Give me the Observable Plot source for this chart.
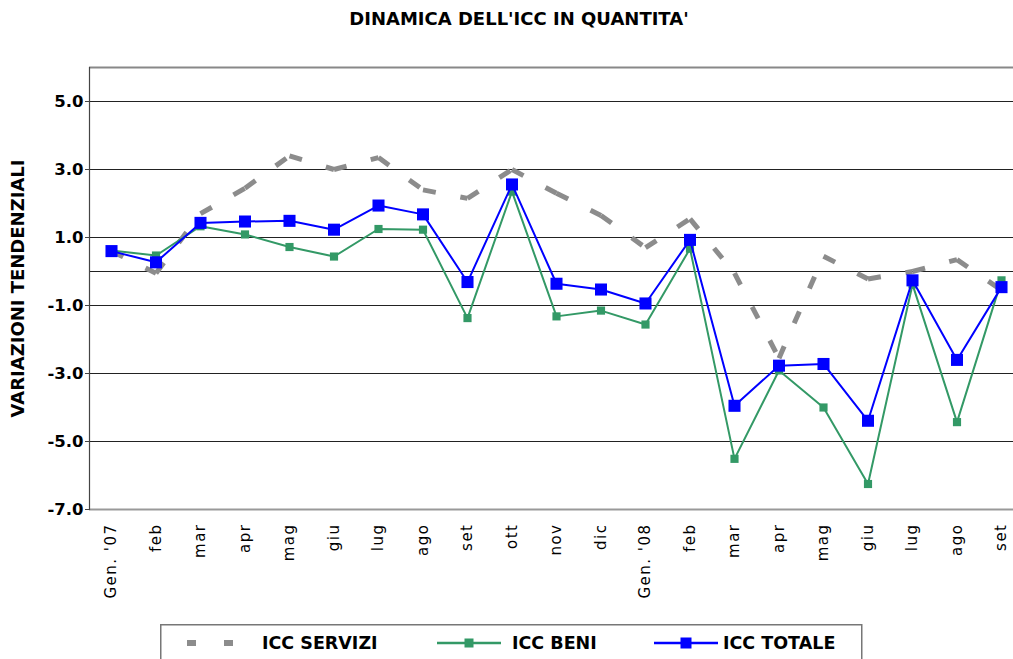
<!DOCTYPE html>
<html><head><meta charset="utf-8">
<script src="https://cdn.jsdelivr.net/npm/d3@7"></script>
<script src="https://cdn.jsdelivr.net/npm/@observablehq/plot@0.6"></script>
<style>
body{margin:0;background:#fff;}
#wrap{position:relative;width:1013px;height:659px;overflow:hidden;font-family:"DejaVu Sans",Verdana,sans-serif;}
#title{position:absolute;left:0;top:8px;width:1038px;text-align:center;font-weight:bold;font-size:18px;color:#000;}
#chart{position:absolute;left:0;top:40px;}
#legend{position:absolute;left:160px;top:624px;}
#chart g[aria-label="x-axis tick label"] text{letter-spacing:1.5px;}
</style></head>
<body><div id="wrap"><div id="title">DINAMICA DELL'ICC IN QUANTITA'</div><div id="chart"></div><div id="legend"></div></div>
<script>
const labels = ["Gen. '07","feb","mar","apr","mag","giu","lug","ago","set","ott","nov","dic","Gen. '08","feb","mar","apr","mag","giu","lug","ago","set"];
const servizi = [0.6, -0.05, 1.7, 2.45, 3.4, 3.0, 3.35, 2.4, 2.15, 3.0, 2.3, 1.65, 0.7, 1.55, -0.05, -2.55, 0.45, -0.22, 0.0, 0.35, -0.55];
const beni = [0.62, 0.47, 1.33, 1.09, 0.72, 0.44, 1.25, 1.23, -1.37, 2.35, -1.32, -1.15, -1.56, 0.67, -5.51, -2.91, -4.0, -6.25, -0.38, -4.43, -0.26];
const totale = [0.6, 0.27, 1.43, 1.47, 1.49, 1.23, 1.94, 1.68, -0.31, 2.56, -0.36, -0.53, -0.94, 0.93, -3.95, -2.77, -2.72, -4.39, -0.26, -2.6, -0.46];
const yTicks = [5, 3, 1, -1, -3, -5, -7];
const gridLines = [5, 3, 1, 0, -1, -3, -5];
const seriesNames = ["ICC SERVIZI", "ICC BENI", "ICC TOTALE"];

const idx = d3.range(labels.length);
const beniData = idx.map(i => ({i, v: beni[i]}));
const totData = idx.map(i => ({i, v: totale[i]}));
// each dashed segment drawn separately so the dash pattern restarts at each vertex
const servSegs = idx.slice(0, -1).flatMap(i => [{seg: i, i, v: servizi[i]}, {seg: i, i: i + 1, v: servizi[i + 1]}]);

const GRAY = "#8c8c8c", GREEN = "#339966", BLUE = "#0000ff";

const chart = Plot.plot({
  width: 1013, height: 580,
  marginLeft: 89, marginRight: 0, marginTop: 27, marginBottom: 111,
  x: {type: "point", domain: idx, range: [111, 1001], padding: 0, round: false},
  y: {domain: [-7, 6]},
  style: {fontFamily: "'DejaVu Sans', Verdana, sans-serif", color: "#000", background: "#fff"},
  marks: [
    Plot.ruleY(gridLines, {stroke: "#222", strokeWidth: 1}),
    Plot.ruleY([6], {stroke: "#888", strokeWidth: 2}),
    Plot.ruleY([-7], {stroke: "#999", strokeWidth: 2}),
    Plot.frame({anchor: "left", stroke: "#444", strokeWidth: 1.2}),
    Plot.axisY(yTicks, {tickSize: 4, tickPadding: 2, tickFormat: d => d.toFixed(1), fontSize: 16.5, fontWeight: "bold", label: null, stroke: "#444"}),
    Plot.text(["VARIAZIONI TENDENZIALI"], {frameAnchor: "left", dx: -71, rotate: -90, textAnchor: "middle", fontSize: 18, fontWeight: "bold"}),
    Plot.axisX(idx, {tickSize: 0, tickRotate: -90, tickPadding: 14, tickFormat: i => labels[i], fontSize: 15, label: null}),
    Plot.line(servSegs, {x: "i", y: "v", z: "seg", stroke: GRAY, strokeWidth: 5, strokeDasharray: "13,25", strokeLinecap: "butt", strokeLinejoin: "miter"}),
    Plot.line(beniData, {x: "i", y: "v", stroke: GREEN, strokeWidth: 2}),
    Plot.dot(beniData, {x: "i", y: "v", symbol: "square", r: 4.6, fill: GREEN, stroke: null}),
    Plot.line(totData, {x: "i", y: "v", stroke: BLUE, strokeWidth: 2}),
    Plot.dot(totData, {x: "i", y: "v", symbol: "square", r: 6.8, fill: BLUE, stroke: null})
  ]
});
document.getElementById("chart").appendChild(chart);

const legend = `<svg width="710" height="40" xmlns="http://www.w3.org/2000/svg" style="display:block">
  <rect x="0.75" y="0.75" width="701" height="60" fill="#fff" stroke="#777" stroke-width="1.5"/>
  <rect x="27" y="16" width="9" height="6" fill="${GRAY}"/>
  <rect x="64" y="16" width="9" height="6" fill="${GRAY}"/>
  <text x="102" y="19" dominant-baseline="central" font-family="'DejaVu Sans', Verdana, sans-serif" font-weight="bold" font-size="17.5">${seriesNames[0]}</text>
  <line x1="277" x2="341" y1="19" y2="19" stroke="${GREEN}" stroke-width="2.5"/>
  <rect x="304.5" y="14.5" width="9" height="9" fill="${GREEN}"/>
  <text x="352" y="19" dominant-baseline="central" font-family="'DejaVu Sans', Verdana, sans-serif" font-weight="bold" font-size="17.5">${seriesNames[1]}</text>
  <line x1="494" x2="558" y1="19" y2="19" stroke="${BLUE}" stroke-width="2.5"/>
  <rect x="520.5" y="13.5" width="11" height="11" fill="${BLUE}"/>
  <text x="563" y="19" dominant-baseline="central" font-family="'DejaVu Sans', Verdana, sans-serif" font-weight="bold" font-size="17.5">${seriesNames[2]}</text>
</svg>`;
document.getElementById("legend").innerHTML = legend;
</script>
</body></html>
